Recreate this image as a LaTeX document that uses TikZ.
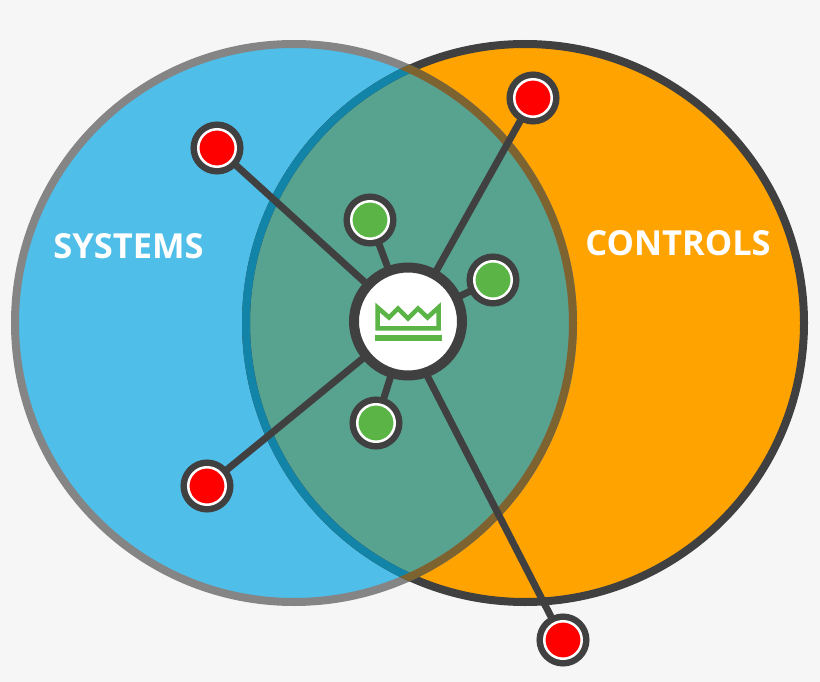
\documentclass[tikz,border=0pt]{standalone}
\usepackage{fontspec}
\setmainfont{Open Sans}
\usepackage{xcolor}
\usetikzlibrary{positioning}
\definecolor{pagebg}{HTML}{F6F6F6}
\definecolor{sysblue}{HTML}{4FBEE8}
\definecolor{ctrlorange}{HTML}{FFA300}
\definecolor{overlapgreen}{HTML}{57A38F}
\definecolor{sysline}{HTML}{858585}
\definecolor{pinline}{HTML}{404040}
\definecolor{ctrlonblue}{HTML}{1284A8}
\definecolor{sysonorange}{HTML}{7D6330}
\definecolor{pingreen}{HTML}{5AB546}
\tikzset{
    redpin/.style={circle, minimum size=37.5pt, inner sep=0pt, outer sep=4pt, fill=red, draw=white, line width=2.5pt,
        preaction={draw=pinline, line width=15.5pt}},
    greenpin/.style={redpin, fill=pingreen},
    hub/.style={circle, minimum size=108pt, inner sep=0pt, outer sep=0pt, fill=white, draw=pinline, line width=10pt},
    spoke/.style={draw=pinline, line width=7pt},
    setlabel/.style={text=white, font=\bfseries\fontsize{34.5}{34.5}\selectfont}
}
\begin{document}
\begin{tikzpicture}[x=1pt,y=-1pt]
        % Background
        \fill[pagebg] (0,0) rectangle (820,682);
        \useasboundingbox (0,0) rectangle (820,682);

        % Circles
        \fill[sysblue] (294,323) circle (279);
        \fill[ctrlorange] (525,323) circle (279);
        \begin{scope}
            \clip (294,323) circle (279);
            \fill[overlapgreen] (525,323) circle (279);
        \end{scope}
        \draw[sysline, line width=8pt] (294,323) circle (279);
        \draw[pinline, line width=8pt] (525,323) circle (279);
        \begin{scope}
            \clip (294,323) circle (283);
            \draw[ctrlonblue, line width=8pt] (525,323) circle (279);
        \end{scope}
        \begin{scope}
            \clip (525,323) circle (283);
            \draw[sysonorange, line width=8pt] (294,323) circle (279);
        \end{scope}

        % Labels
        \node[setlabel] (systems) at (128.5,246) {SYSTEMS};
        \node[setlabel] (controls) at (678,243) {CONTROLS};

        % Hub and pins
        \node[hub] (centre) at (408,321.5) {};
        \node[redpin] (redA) at (217,148) {};
        \node[redpin] (redB) at (533,98) {};
        \node[redpin] (redC) at (207,486) {};
        \node[redpin] (redD) at (563,640) {};
        \node[greenpin] (greenA) at (370,220) {};
        \node[greenpin] (greenB) at (493,280) {};
        \node[greenpin] (greenC) at (376,423) {};

        % Spokes
        \foreach \pin in {redA,redB,redC,greenA,greenB,greenC} {
            \draw[spoke] (centre) -- (\pin);
        }
        \draw[spoke] (centre.-71) -- (redD);

        % Crown
        \draw[pingreen, line width=4.5pt, miter limit=10] (377.5,307.5) -- (389,317.5) -- (398,308.5) -- (408,318.5) -- (418,308.5) -- (427.5,317.5) -- (438.5,307.5) -- (438.5,328.4) -- (377.5,328.4) -- cycle;
        \fill[pingreen] (374.5,334.7) rectangle (442,340.7);
    \end{tikzpicture}
\end{document}
